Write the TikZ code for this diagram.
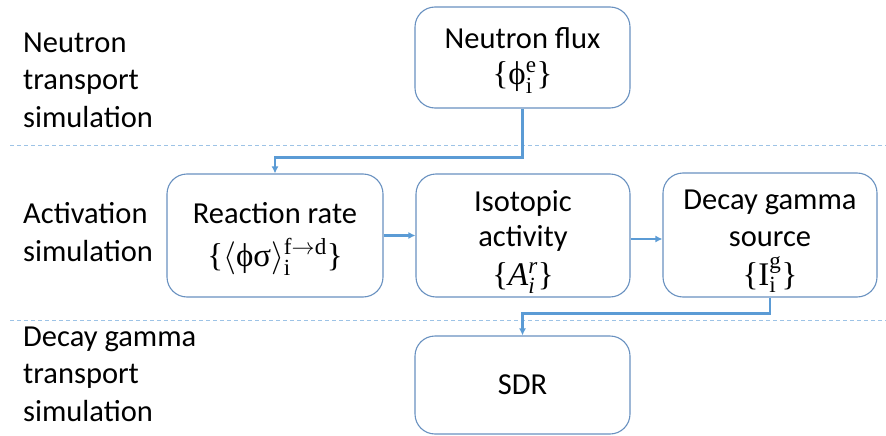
\documentclass[tikz,border=0pt]{standalone}
\usepackage{fix-cm}
\usepackage{fontspec}
\setmainfont{Carlito}
\newfontfamily\mathish{Liberation Serif}
\usepackage{amsmath}
\usetikzlibrary{arrows.meta}
\definecolor{boxline}{RGB}{105,145,192}
\definecolor{arrowblue}{RGB}{91,155,213}
\definecolor{dashblue}{RGB}{157,195,230}
\newcommand{\fml}{\fontsize{33}{38}\selectfont\mathish}
\newcommand{\topstrut}[1]{\rule{0pt}{#1}}
\tikzset{
  procbox/.style={draw=boxline, line width=1.1pt, rounded corners=20pt, minimum width=215pt, inner sep=0pt, align=center, font=\fontsize{30.5}{38}\selectfont},
  sidelabel/.style={anchor=west, align=left, inner sep=0pt, font=\fontsize{30.5}{37.5}\selectfont},
  flow/.style={draw=arrowblue, line width=2.2pt, -{Latex[length=7pt,width=7pt]}},
  sep/.style={draw=dashblue, line width=1pt, dash pattern=on 4pt off 3pt}
}
\begin{document}
\begin{tikzpicture}[x=1pt,y=-1pt]
\useasboundingbox (0,0) rectangle (886,436);
% separators
\coordinate (s1a) at (10,145);
\coordinate (s1b) at (886,145);
\coordinate (s2a) at (10,320);
\coordinate (s2b) at (886,320);
\draw[sep] (s1a) -- (s1b);
\draw[sep] (s2a) -- (s2b);
% side labels
\node[sidelabel] (lab1) at (23,80) {Neutron\\transport\\simulation};
\node[sidelabel] (lab2) at (23,232) {Activation\\simulation};
\node[sidelabel] (lab3) at (23,374) {Decay gamma\\transport\\simulation};
% boxes
\node[procbox, minimum height=101pt] (nf) at (522.5,57.5) {\topstrut{27pt}Neutron flux\\[-2pt]{\fml\{ϕ$_{\text{i}}^{\text{e}}$\}}};
\node[procbox, minimum height=123pt, minimum width=216pt] (rr) at (275,235.5) {\topstrut{28pt}Reaction rate\\[5pt]{\fml\{$\langle$ϕσ$\rangle_{\text{i}}^{\text{f}\to\text{d}}$\}}};
\node[procbox, minimum height=123pt, minimum width=214pt] (iso) at (523,235.5) {\topstrut{34pt}Isotopic\\[-3pt]activity\\[1pt]{\fml\{\textit{A}$_{\textit{i}}^{\textit{r}}$\}}};
\node[procbox, minimum height=124pt, minimum width=214pt] (dg) at (770,235) {\topstrut{32pt}Decay gamma\\[-1pt]source\\[1pt]{\fml\{I$_{\text{i}}^{\text{g}}$\}}};
\node[procbox, minimum height=98pt] (sdr) at (522.5,385) {SDR};
% connectors
\draw[flow] (nf.south) -- ++(0,49) -| (rr.north);
\draw[flow] (rr.east) -- (iso.west);
\draw[flow] (iso.east |- 0,239) -- (dg.west |- 0,239);
\draw[flow] (dg.south) -- ++(0,16) -| (sdr.north);
\end{tikzpicture}
\end{document}
